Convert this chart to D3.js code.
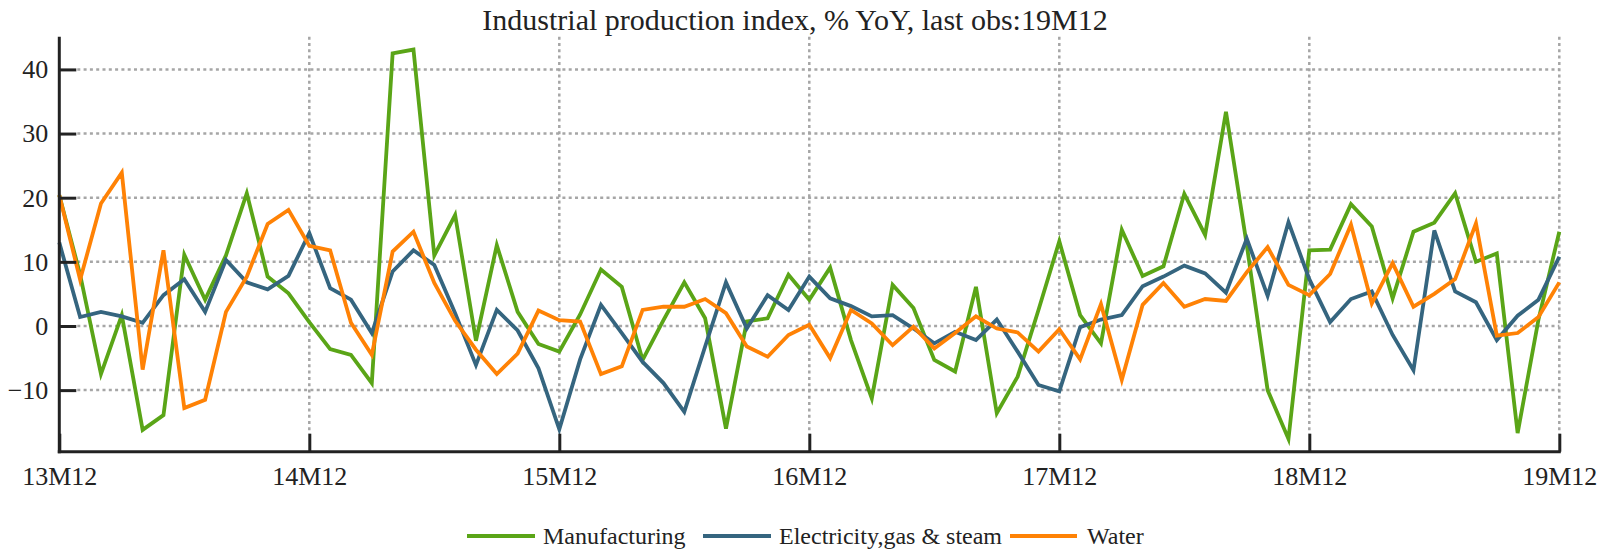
<!DOCTYPE html>
<html>
<head>
<meta charset="utf-8">
<script src="https://cdn.jsdelivr.net/npm/d3@7"></script>
<style>
  body { margin: 0; background: #fff; }
  text { font-family: "Liberation Serif", "Times New Roman", serif; fill: #222; }
</style>
</head>
<body>
<svg id="chart"></svg>
<script>
const width = 1608;
const height = 552;

// x ticks, one per year (index of month from 13M12)
const tickLabels = ["13M12", "14M12", "15M12", "16M12", "17M12", "18M12", "19M12"];
const tickIndex = [0, 12, 24, 36, 48, 60, 72];
const yTicks = [-10, 0, 10, 20, 30, 40];

const seriesNames = ["Manufacturing", "Electricity,gas & steam", "Water"];
const seriesColors = ["#5aa517", "#35657f", "#ff8205"];

const manufacturing = [
  20.4, 8, -7.5, 1.7, -16.2, -13.9, 11.1, 4.1, 11, 20.7, 7.7, 5.1,
  0.6, -3.6, -4.5, -8.9, 42.5, 43.1, 11.0, 17.3, -2.3, 12.6, 2.2, -2.8,
  -4.0, 1.8, 8.8, 6.1, -5.3, 0.9, 6.8, 1.2, -16.0, 0.7, 1.2, 8.0,
  4.1, 9.1, -2.2, -11.3, 6.4, 2.8, -5.3, -7.1, 6.1, -13.6, -7.9, 2.5,
  13.2, 1.7, -2.7, 15.0, 7.8, 9.3, 20.6, 14.2, 33.4, 12.6, -10.0, -17.6,
  11.8, 11.9, 19.0, 15.5, 4.3, 14.7, 16.1, 20.7, 10.0, 11.3, -16.7, 1.0,
  14.7
];
const electricity = [
  13.0, 1.4, 2.2, 1.5, 0.5, 4.8, 7.3, 2.2, 10.3, 6.8, 5.7, 7.8,
  14.5, 5.9, 4.1, -1.1, 8.5, 11.8, 9.5, 2.0, -6.1, 2.5, -0.7, -6.6,
  -16.1, -5.2, 3.3, -1.1, -5.6, -8.9, -13.4, -3.2, 6.8, -0.4, 4.8, 2.5,
  7.7, 4.3, 3.1, 1.5, 1.7, -0.4, -2.7, -0.9, -2.2, 1.0, -4.0, -9.2,
  -10.2, -0.2, 1.0, 1.7, 6.2, 7.7, 9.4, 8.2, 5.2, 13.6, 4.7, 16.2,
  7.3, 0.6, 4.2, 5.4, -1.4, -6.9, 14.9, 5.4, 3.7, -2.2, 1.6, 4.1,
  10.8
];
const water = [
  20.4, 7.2, 19.1, 23.9, -6.8, 11.8, -12.8, -11.5, 2.2, 7.7, 15.9, 18.1,
  12.5, 11.8, 0.5, -4.5, 11.6, 14.7, 6.7, 0.8, -3.7, -7.5, -4.3, 2.4,
  0.9, 0.7, -7.5, -6.3, 2.5, 3.0, 3.0, 4.2, 2.0, -3.2, -4.8, -1.4,
  0.2, -5.0, 2.5, 0.4, -3.0, -0.1, -3.5, -1.1, 1.5, -0.4, -1.0, -4.0,
  -0.5, -5.2, 3.4, -8.4, 3.3, 6.7, 3.0, 4.2, 3.9, 8.4, 12.3, 6.4,
  4.8, 8.1, 15.8, 3.5, 9.8, 3.0, 5.0, 7.3, 16.0, -1.5, -1.1, 1.4,
  6.8
];
const series = [manufacturing, electricity, water];

const plotLeft = 59.3, plotRight = 1559.3, plotTop = 36.7, plotBottom = 451.7;

const svg = d3.select("#chart")
  .attr("width", width)
  .attr("height", height);

const x = d3.scaleLinear().domain([0, 72]).range([plotLeft, plotRight]);
const y = d3.scaleLinear().domain([-19.6, 45.1]).range([plotBottom, plotTop]);

// grid
const grid = svg.append("g")
  .attr("stroke", "#a6a6a6")
  .attr("stroke-width", 2.5)
  .attr("stroke-dasharray", "3,3.3");

grid.selectAll(".hgrid")
  .data(yTicks)
  .enter()
  .append("line")
  .attr("x1", plotLeft + 18)
  .attr("x2", plotRight)
  .attr("y1", d => y(d))
  .attr("y2", d => y(d));

grid.selectAll(".vgrid")
  .data(tickIndex.slice(1))
  .enter()
  .append("line")
  .attr("x1", d => x(d))
  .attr("x2", d => x(d))
  .attr("y1", plotTop)
  .attr("y2", plotBottom - 18);

// lines
const line = d3.line()
  .x((d, i) => x(i))
  .y(d => y(d));

series.forEach((s, k) => {
  svg.append("path")
    .datum(s)
    .attr("fill", "none")
    .attr("stroke", seriesColors[k])
    .attr("stroke-width", 3.8)
    .attr("stroke-linejoin", "miter")
    .attr("d", line);
});

// axes
const yAxis = d3.axisLeft(y)
  .tickValues(yTicks)
  .tickSizeInner(-17)
  .tickSizeOuter(0)
  .tickPadding(11);

const gy = svg.append("g")
  .attr("transform", `translate(${plotLeft},0)`)
  .call(yAxis);

const xAxis = d3.axisBottom(x)
  .tickValues(tickIndex)
  .tickFormat((d, i) => tickLabels[i])
  .tickSizeInner(-18)
  .tickSizeOuter(0)
  .tickPadding(33);

const gx = svg.append("g")
  .attr("transform", `translate(0,${plotBottom})`)
  .call(xAxis);

[gx, gy].forEach(g => {
  g.select(".domain").attr("stroke", "#222").attr("stroke-width", 3);
  g.selectAll(".tick line").attr("stroke", "#222").attr("stroke-width", 3);
  g.selectAll(".tick text")
    .attr("font-family", "Liberation Serif")
    .attr("font-size", 26)
    .attr("fill", "#222");
});
gy.select(".domain").attr("d", `M0,${plotTop}V${plotBottom + 1.5}`);
gx.select(".domain").attr("d", `M${plotLeft - 1.5},0H${plotRight + 1.5}`);
gx.selectAll(".tick text").attr("dy", "0");

// title
svg.append("text")
  .attr("x", 795)
  .attr("y", 30)
  .attr("text-anchor", "middle")
  .attr("font-size", 30)
  .attr("fill", "#111")
  .text("Industrial production index, % YoY, last obs:19M12");

// legend
const legendItems = [
  { x1: 467, x2: 535, tx: 543 },
  { x1: 703, x2: 771, tx: 779 },
  { x1: 1010, x2: 1077, tx: 1087 }
];
const legend = svg.append("g");
legendItems.forEach((it, k) => {
  legend.append("line")
    .attr("x1", it.x1).attr("x2", it.x2)
    .attr("y1", 536).attr("y2", 536)
    .attr("stroke", seriesColors[k])
    .attr("stroke-width", 4);
  legend.append("text")
    .attr("x", it.tx)
    .attr("y", 544)
    .attr("font-size", 24)
    .attr("fill", "#111")
    .text(seriesNames[k]);
});
</script>
</body>
</html>
